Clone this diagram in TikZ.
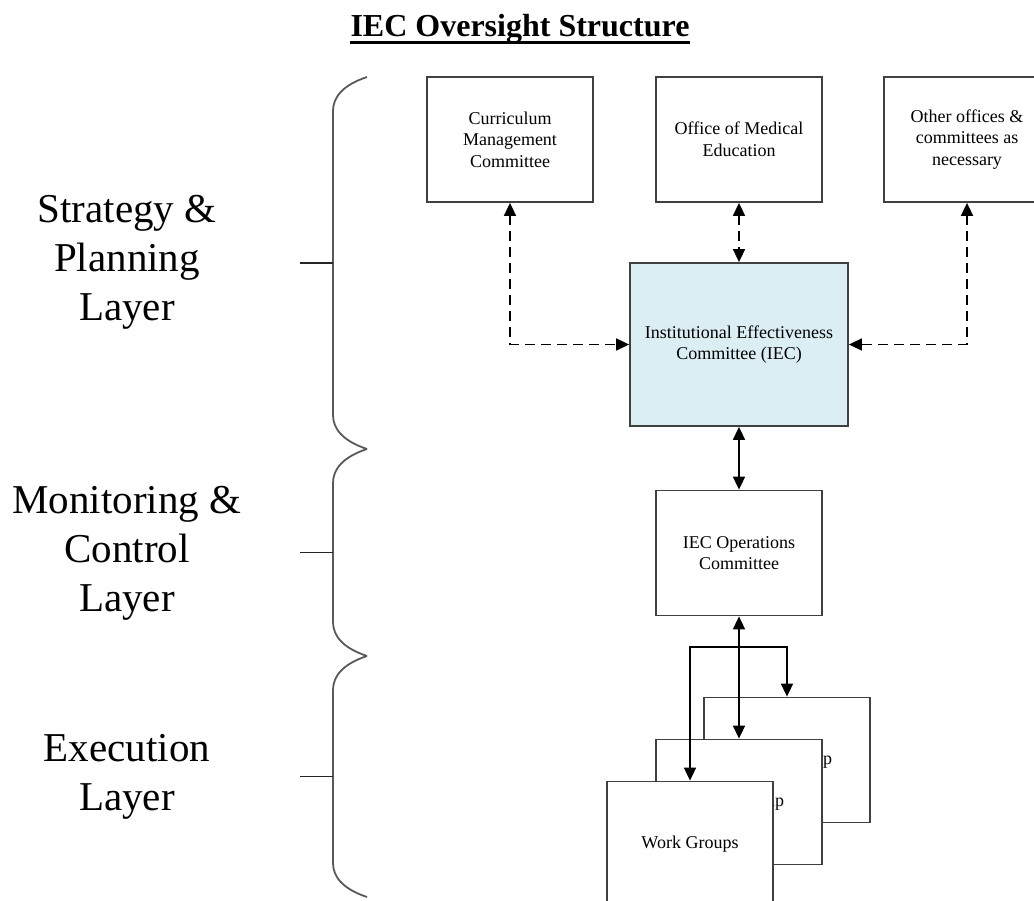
\documentclass[tikz,border=0pt]{standalone}
\usepackage{fontspec}
\setmainfont{Liberation Serif}
\usetikzlibrary{arrows.meta}
\definecolor{iecblue}{RGB}{218,238,243}

\begin{document}
\begin{tikzpicture}[x=1pt, y=-1pt,
  box/.style={draw=black!75, line width=1.8pt, fill=white, minimum width=166pt,
    minimum height=125pt, align=center, inner sep=2pt,
    font=\fontsize{18}{21.5}\selectfont},
  conn/.style={line width=1.7pt,
    {Triangle[length=13pt,width=12pt]}-{Triangle[length=13pt,width=12pt]}},
  dconn/.style={conn, dash pattern=on 10pt off 6pt},
  layer/.style={align=center, font=\fontsize{41}{49}\selectfont},
  brace/.style={draw=black!65, line width=1.8pt}]

\def\W{1034}
\def\H{901}
\def\xL{300} % tick end
\def\xB{333} % brace spine
\def\xT{367} % brace tips

\useasboundingbox (0,0) rectangle (\W,\H);
\clip (0,0) rectangle (\W,\H);

\node[font=\bfseries\fontsize{32}{38}\selectfont, inner sep=0pt, anchor=base]
  (title) at (520,37) {IEC Oversight Structure};
\draw[line width=3pt] ([yshift=-6pt]title.base west) -- ([yshift=-6pt]title.base east);

\node[layer] (strat) at (127,262) {Strategy \&\\Planning\\Layer};
\node[layer] (mon)   at (127,553) {Monitoring \&\\Control\\Layer};
\node[layer] (exe)   at (127,777) {Execution\\Layer};

\foreach \ya/\yb in {77/449, 449/656, 656/897}{
  \draw[brace] (\xT,\ya) .. controls (\xB+10,\ya+8) and (\xB,\ya+20) .. (\xB,\ya+34)
    -- (\xB,\yb-34) .. controls (\xB,\yb-20) and (\xB+10,\yb-8) .. (\xT,\yb);
  \draw[brace, draw=black!85, line width=1.5pt] (\xB,{(\ya+\yb)/2}) -- (\xL,{(\ya+\yb)/2});
}

\node[box] (cmc) at (510,139.5) {Curriculum\\Management\\Committee};
\node[box] (ome) at (739,139.5) {Office of Medical\\Education};
\node[box] (oth) at (967,139.5) {Other offices \&\\committees as\\necessary};

\node[box, fill=iecblue, minimum width=218pt, minimum height=163pt]
  (iec) at (739,344.5) {Institutional Effectiveness\\Committee (IEC)};

\node[box] (ops) at (739,553) {IEC Operations\\Committee};

\node[box] (wg3) at (787,760) {Work Group};
\node[box] (wg2) at (739,802) {Work Group};
\node[box] (wg1) at (690,844) {Work Groups};

\draw[dconn] (cmc.south) |- (iec.west);
\draw[dconn] (ome.south) -- (iec.north);
\draw[dconn] (oth.south) |- (iec.east);
\draw[conn] (iec.south) -- (ops.north);
\draw[conn] (ops.south) -- (wg2.north);

\coordinate (fork) at (739,647);
\draw[conn] (wg1.north) |- (fork) -| (wg3.north);

\end{tikzpicture}
\end{document}
